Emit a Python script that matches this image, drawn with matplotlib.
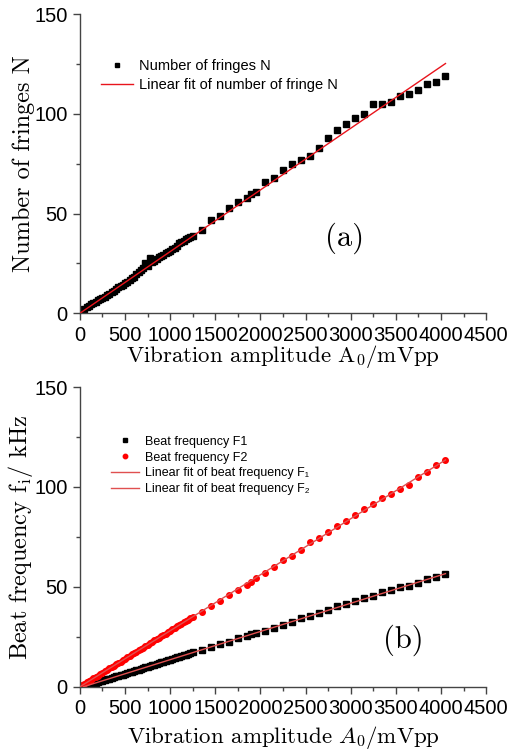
import matplotlib
matplotlib.use('Agg')
import matplotlib.pyplot as plt
from matplotlib.ticker import MultipleLocator

# panel (a): number of fringes
xa = [25, 50, 75, 100, 125, 150, 175, 200, 225, 250, 275, 300, 325, 350, 375,
      400, 425, 450, 475, 500, 525, 550, 575, 600, 625, 650, 675, 700, 725, 750,
      775, 800, 825, 850, 875, 900, 925, 950, 975, 1000, 1025, 1050, 1075, 1100,
      1125, 1150, 1175, 1200, 1225, 1250,
      1350, 1450, 1550, 1650, 1750, 1850, 1900, 1950, 2050, 2150, 2250, 2350,
      2450, 2550, 2650, 2750, 2850, 2950, 3050, 3150, 3250, 3350, 3450, 3550,
      3650, 3750, 3850, 3950, 4050]
Na = [1.5, 2.2, 3.0, 3.6, 4.4, 5.0, 5.6, 6.4, 7.0, 7.8, 8.4, 9.0, 9.8, 10.5, 11.2,
      12.2, 13.0, 13.8, 14.2, 15.0, 15.6, 16.6, 17.5, 18.4, 19.5, 20.6, 21.6, 22.5,
      25.0, 23.6, 27.8, 25.5, 26.4, 27.4, 28.3, 28.8, 29.3, 30.0, 30.5, 31.0, 32.2,
      32.8, 33.5, 35.0, 35.6, 36.4, 37.2, 37.6, 38.2, 38.8,
      41.8, 46.8, 48.8, 53.0, 55.8, 58.0, 60.0, 60.8, 65.8, 68.0, 71.8, 74.8,
      76.8, 78.8, 82.8, 87.9, 91.9, 94.9, 97.9, 99.9, 104.9, 104.9, 106.0, 108.9,
      109.9, 111.9, 114.9, 115.9, 118.9]
fit_a_x = [0, 4050]
fit_a_y = [0, 125.3]

# panel (b): beat frequencies
xb = [0, 25, 50, 75, 100, 125, 150, 175, 200, 225, 250, 275, 300, 325, 350, 375,
      400, 425, 450, 475, 500, 525, 550, 575, 600, 625, 650, 675, 700, 725, 750,
      775, 800, 825, 850, 875, 900, 925, 950, 975, 1000, 1025, 1050, 1075, 1100,
      1125, 1150, 1175, 1200, 1225, 1250,
      1350, 1450, 1550, 1650, 1750, 1850, 1900, 1950, 2050, 2150, 2250, 2350,
      2450, 2550, 2650, 2750, 2850, 2950, 3050, 3150, 3250, 3350, 3450, 3550,
      3650, 3750, 3850, 3950, 4050]
F1 = [0.0, 0.1, 0.2, 0.5, 0.9, 1.2, 1.6, 2.0, 2.3, 2.9, 3.1, 3.4, 3.8, 4.1, 4.4, 4.8,
      5.2, 5.4, 5.9, 6.1, 6.5, 6.9, 7.2, 7.6, 7.9, 8.3, 8.6, 9.0, 9.3, 9.7, 10.0,
      10.4, 10.8, 11.1, 11.5, 11.8, 12.2, 12.5, 12.9, 13.2, 13.6, 13.9, 14.3, 14.7,
      15.0, 15.4, 15.7, 16.1, 16.4, 16.8, 17.2,
      18.5, 20.0, 21.6, 22.6, 24.3, 25.6, 26.5, 27.0, 28.1, 29.6, 31.1, 32.6,
      34.3, 35.6, 37.0, 38.5, 40.3, 41.6, 43.0, 44.4, 45.6, 47.4, 48.3, 49.8,
      50.6, 51.9, 53.9, 55.1, 56.6]
F2 = [0.1, 0.8, 1.4, 2.2, 2.8, 3.6, 4.2, 5.0, 5.6, 6.4, 7.0, 7.8, 8.4, 9.2, 9.8, 10.6,
      11.2, 11.9, 12.6, 13.4, 14.0, 14.8, 15.4, 16.2, 16.8, 17.6, 18.2, 19.0, 19.6,
      20.4, 21.0, 21.8, 22.4, 23.2, 23.8, 24.6, 25.2, 26.0, 26.6, 27.4, 28.0, 28.7,
      29.4, 30.2, 30.8, 31.6, 32.2, 32.9, 33.6, 34.3, 35.0,
      37.3, 40.3, 43.0, 45.8, 48.6, 50.9, 52.4, 54.3, 56.8, 59.8, 63.6, 65.6,
      68.4, 72.4, 74.4, 77.6, 80.7, 83.1, 86.1, 89.1, 91.6, 94.4, 96.7, 99.0,
      101.2, 105.2, 107.4, 111.2, 113.5]
fit1_x = [40, 4050]
fit1_y = [0, 56.6]
fit2_x = [0, 4050]
fit2_y = [0, 113.5]

plt.rcParams['mathtext.fontset'] = 'cm'
tickfont = 'Liberation Sans'
labfont = 'cmr10'

fig = plt.figure(figsize=(5.09, 7.53), dpi=100)
ax1 = fig.add_axes([0.157, 0.584, 0.798, 0.397])
ax2 = fig.add_axes([0.157, 0.088, 0.798, 0.398])


def style(ax):
    for s in ['top', 'right']:
        ax.spines[s].set_visible(False)
    for s in ['left', 'bottom']:
        ax.spines[s].set_color('#444444')
        ax.spines[s].set_linewidth(1.0)
    ax.set_xlim(0, 4500)
    ax.set_ylim(0, 150)
    ax.xaxis.set_major_locator(MultipleLocator(500))
    ax.xaxis.set_minor_locator(MultipleLocator(250))
    ax.yaxis.set_major_locator(MultipleLocator(50))
    ax.yaxis.set_minor_locator(MultipleLocator(25))
    ax.tick_params(which='major', direction='out', length=5, width=1,
                   color='#444444', labelsize=14.5, pad=4)
    ax.tick_params(which='minor', direction='out', length=3, width=1,
                   color='#444444')
    for t in ax.get_xticklabels() + ax.get_yticklabels():
        t.set_fontfamily(tickfont)


style(ax1)
ax1.plot(xa, Na, 's', color='black', ms=4, label='Number of fringes N', zorder=2)
ax1.plot(fit_a_x, fit_a_y, '-', color='#e8141c', lw=1.0,
         label='Linear fit of number of fringe N', zorder=3)
leg = ax1.legend(loc='upper left', bbox_to_anchor=(0.02, 0.895), frameon=False,
                 prop={'family': tickfont, 'size': 10.5}, handlelength=2.2,
                 handletextpad=0.4, labelspacing=0.35, markerscale=0.8)
ax1.set_xlabel(r'Vibration amplitude A$_0$/mVpp', fontfamily=labfont, fontsize=16.5)
ax1.set_ylabel('Number of fringes N', fontfamily=labfont, fontsize=17.5)
ax1.xaxis.set_label_coords(0.5, -0.1)
ax1.yaxis.set_label_coords(-0.11, 0.5)
ax1.text(2937, 37.6, '(a)', fontfamily=labfont, fontsize=22, ha='center', va='center')

style(ax2)
ax2.plot(xb, F1, 's', color='black', ms=4, label='Beat frequency F1', zorder=2)
ax2.plot(xb, F2, 'o', color='#ff0000', ms=4, label='Beat frequency F2', zorder=2)
ax2.plot(fit1_x, fit1_y, '-', color='#e05050', lw=1.0,
         label='Linear fit of beat frequency F\u2081', zorder=3)
ax2.plot(fit2_x, fit2_y, '-', color='#e05050', lw=1.0,
         label='Linear fit of beat frequency F\u2082', zorder=3)
ax2.legend(loc='upper left', bbox_to_anchor=(0.05, 0.875), frameon=False,
           prop={'family': [tickfont, 'DejaVu Sans'], 'size': 9}, handlelength=2.2,
           handletextpad=0.5, labelspacing=0.3, markerscale=0.8)
ax2.set_xlabel(r'Vibration amplitude $A_0$/mVpp', fontfamily=labfont, fontsize=16.5)
ax2.set_ylabel(r'Beat frequency f$_\mathrm{i}$/ kHz', fontfamily=labfont, fontsize=17.5)
ax2.xaxis.set_label_coords(0.5, -0.125)
ax2.yaxis.set_label_coords(-0.11, 0.5)
ax2.text(3580, 23.5, '(b)', fontfamily=labfont, fontsize=22, ha='center', va='center')

fig.savefig('out.png', dpi=100)
